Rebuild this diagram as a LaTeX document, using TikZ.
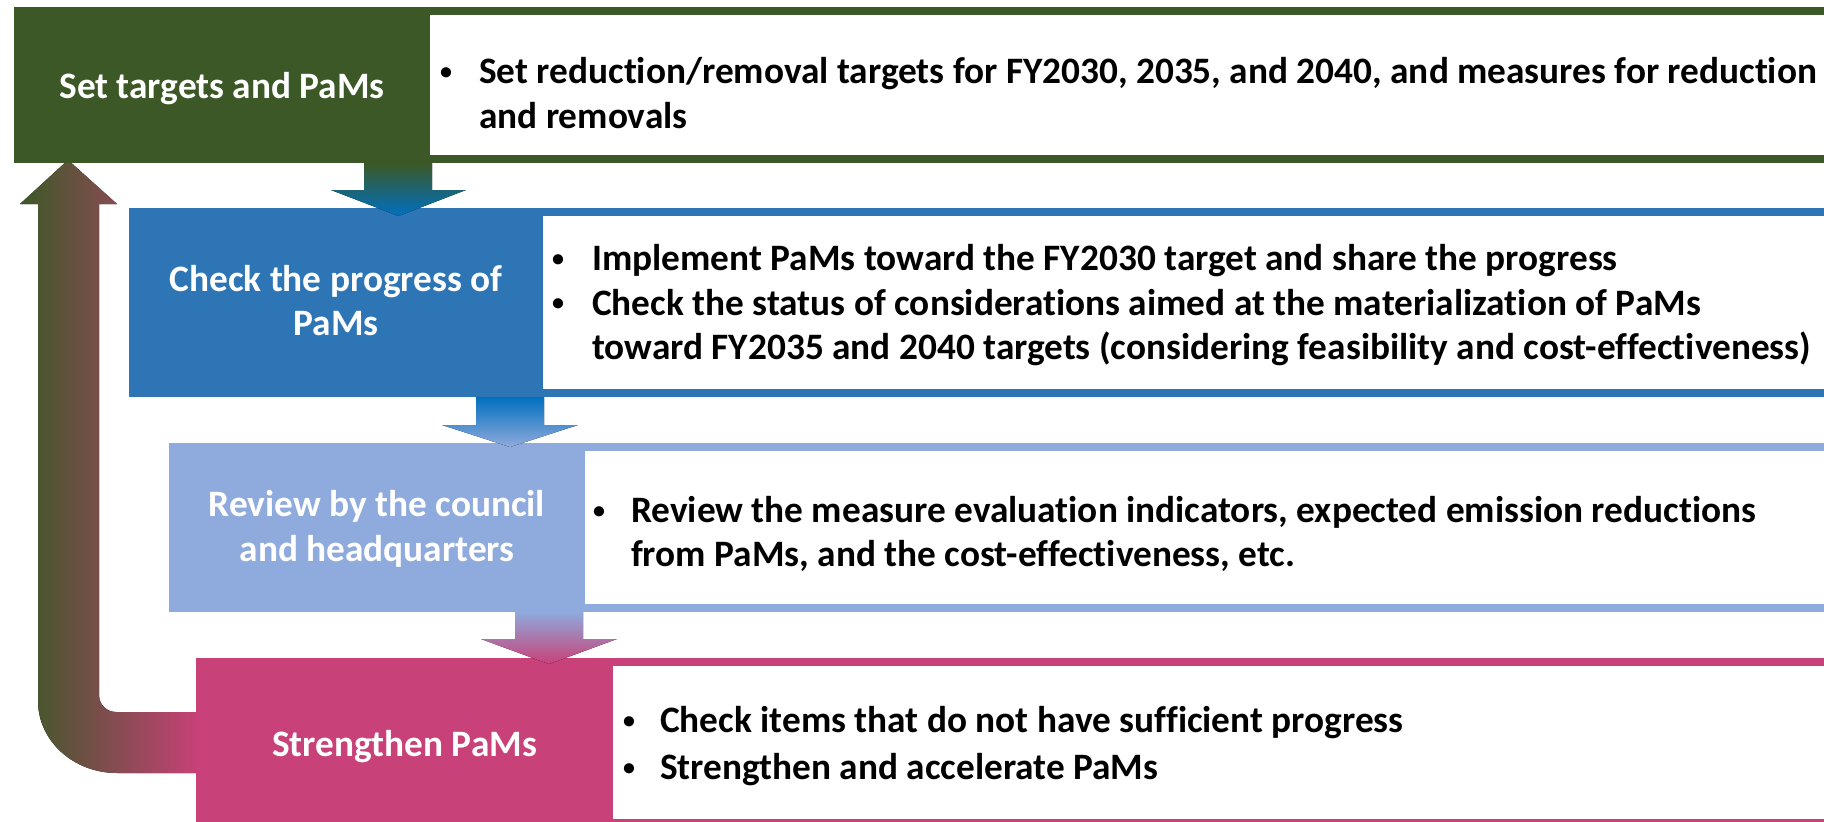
\documentclass[tikz,border=0pt]{standalone}
\usepackage{fontspec}
\setmainfont{Carlito}[Ligatures=NoCommon]
\definecolor{cgreen}{RGB}{60,88,38}
\definecolor{cblue}{RGB}{46,117,182}
\definecolor{clblue}{RGB}{143,170,220}
\definecolor{cpink}{RGB}{200,65,120}
\definecolor{cvblue}{RGB}{0,112,192}
\setlength{\lineskiplimit}{-100pt}
\setlength{\lineskip}{0pt}
\newcommand{\smbul}{\hspace*{3pt}\raisebox{4.5pt}{\fontsize{24}{0}\selectfont\textbullet}}
\begin{document}
\begin{tikzpicture}[x=1pt,y=-1pt,
  box/.style={draw=none, inner sep=0pt, outer sep=0pt, anchor=north west},
  labeltext/.style={text=white, align=center, inner sep=0pt, anchor=base,
    font=\bfseries\fontsize{37.3}{44}\selectfont},
  bullettext/.style={text=black, align=left, inner sep=0pt, anchor=base west,
    font=\bfseries\fontsize{37.3}{45}\selectfont}]
\useasboundingbox (0,0) rectangle (1824,822);
\fill[white] (0,0) rectangle (1824,822);
% return arrow
\fill[left color=cgreen, right color=cpink]
  (68,160) -- (117,204) -- (99,204) -- (99,695)
  arc[start angle=180, end angle=90, radius=17] -- (200,712) -- (200,773) -- (117,773)
  arc[start angle=90, end angle=180, x radius=79, y radius=72] -- (38,204) -- (20,204) -- cycle;
% boxes
\node[box, fill=cgreen, minimum width=1810, minimum height=156] (g) at (14,7) {};
\node[box, fill=white, minimum width=1394, minimum height=140] (gw) at (430,15) {};
\node[box, fill=cblue, minimum width=1695, minimum height=189] (b) at (129,208) {};
\node[box, fill=white, minimum width=1281, minimum height=173] (bw) at (543,216) {};
\node[box, fill=clblue, minimum width=1655, minimum height=169] (lb) at (169,443) {};
\node[box, fill=white, minimum width=1239, minimum height=153] (lbw) at (585,451) {};
\node[box, fill=cpink, minimum width=1628, minimum height=164] (p) at (196,658) {};
\node[box, fill=white, minimum width=1211, minimum height=153] (pw) at (613,666) {};
% down arrows
\fill[top color=cgreen, bottom color=cvblue]
  (364,163) -- (432,163) -- (432,190) -- (466,190) -- (398.5,216) -- (331,190) -- (364,190) -- cycle;
\fill[top color=cvblue, bottom color=clblue]
  (476,397) -- (544,397) -- (544,425) -- (578,425) -- (510,447) -- (442,425) -- (476,425) -- cycle;
\fill[top color=clblue, bottom color=cpink]
  (515,612) -- (583,612) -- (583,639) -- (617,639) -- (549,664) -- (481,639) -- (515,639) -- cycle;
% labels
\node[labeltext] (gl) at (222,98) {Set targets and PaMs};
\node[labeltext] (bl) at (336,335) {Check the progress of\\PaMs};
\node[labeltext, font=\bfseries\fontsize{37.3}{45}\selectfont] (ll) at (377,561) {Review by the council\\and headquarters};
\node[labeltext] (pl) at (404.5,756) {Strengthen PaMs};
% bullet texts
\node[bullettext] (gt) at (437,128.5) {\makebox[42pt][l]{\smbul}Set reduction/removal targets for FY2030, 2035, and 2040, and measures for reduction\\\hspace*{42pt}and removals};
\node[bullettext, font=\bfseries\fontsize{37.3}{44.5}\selectfont] (bt) at (549,359.5) {\makebox[43pt][l]{\smbul}Implement PaMs toward the FY2030 target and share the progress\\\makebox[43pt][l]{\smbul}Check the status of considerations aimed at the materialization of PaMs\\\hspace*{43pt}toward FY2035 and 2040 targets (considering feasibility and cost-effectiveness)};
\node[bullettext, font=\bfseries\fontsize{37.3}{44}\selectfont] (lt) at (590,566.5) {\makebox[41pt][l]{\smbul}Review the measure evaluation indicators, expected emission reductions\\\hspace*{41pt}from PaMs, and the cost-effectiveness, etc.};
\node[bullettext, font=\bfseries\fontsize{37.3}{47}\selectfont] (pt) at (620,779.5) {\makebox[40pt][l]{\smbul}Check items that do not have sufficient progress\\\makebox[40pt][l]{\smbul}Strengthen and accelerate PaMs};
\end{tikzpicture}
\end{document}
